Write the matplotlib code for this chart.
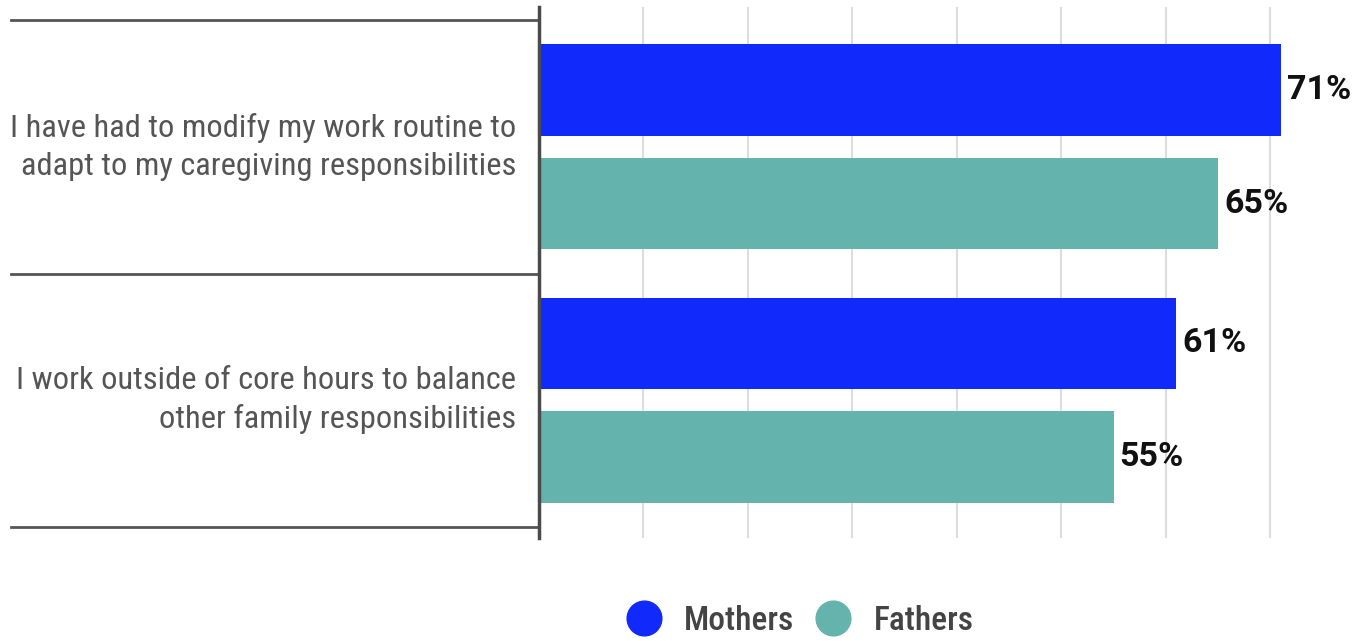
import matplotlib.pyplot as plt
from matplotlib.lines import Line2D
import numpy as np

categories = ["I have had to modify my work routine to\nadapt to my caregiving responsibilities",
              "I work outside of core hours to balance\nother family responsibilities"]
mothers = [71, 61]
fathers = [65, 55]
series_names = ["Mothers", "Fathers"]
colors = ["#1229FB", "#65B3AD"]

plt.rcParams['font.family'] = ['Roboto Condensed', 'Roboto', 'DejaVu Sans']

fig = plt.figure(figsize=(13.6, 6.41), dpi=100)
ax = fig.add_axes([539/1360, 103/641, 815/1360, 531/641])

y = np.arange(len(categories))
off = 0.224
h = 0.36
ax.barh(y - off, mothers, height=h, color=colors[0], zorder=3)
ax.barh(y + off, fathers, height=h, color=colors[1], zorder=3)

# value labels
for yy, v in zip(y - off, mothers):
    ax.text(v + 0.55, yy, f"{v}%", va='center', ha='left', fontsize=24.5, fontweight='semibold',
            family=['Roboto', 'DejaVu Sans'], color='#111111')
for yy, v in zip(y + off, fathers):
    ax.text(v + 0.55, yy, f"{v}%", va='center', ha='left', fontsize=24.5, fontweight='semibold',
            family=['Roboto', 'DejaVu Sans'], color='#111111')

ax.set_xlim(0, 78)
ax.set_ylim(1.5 + 11/253.5, -0.5 - 13/253.5)

# gridlines
ax.set_xticks(np.arange(10, 80, 10))
ax.xaxis.grid(True, color='#dddddd', linewidth=1.5, zorder=0)
ax.tick_params(axis='x', length=0, labelbottom=False)
ax.tick_params(axis='y', length=0, labelleft=False)
for s in ['top', 'right', 'bottom']:
    ax.spines[s].set_visible(False)
ax.spines['left'].set_color('#4a4a4a')
ax.spines['left'].set_linewidth(2.5)
ax.spines['left'].set_zorder(5)

# category separators, extending left of the axis
for b in [-0.5, 0.5, 1.5]:
    ax.plot([-50.5, 0], [b, b], color='#555555', linewidth=2, clip_on=False, zorder=4)

# category labels
for yy, lab in zip(y, categories):
    ax.text(-2.2, yy, lab, ha='right', va='center', fontsize=23.4, color='#555555',
            linespacing=1.38)

handles = [Line2D([], [], marker='o', linestyle='', markersize=25, markerfacecolor=c,
                  markeredgecolor=c) for c in colors]
leg = fig.legend(handles, series_names, loc='center', bbox_to_anchor=(792/1360, 1 - 621/641),
                 ncol=2, frameon=False, handletextpad=0.2, columnspacing=0.18,
                 prop={'size': 24, 'weight': 'medium'})
for t in leg.get_texts():
    t.set_color('#444444')

fig.savefig("out.png", dpi=100)
